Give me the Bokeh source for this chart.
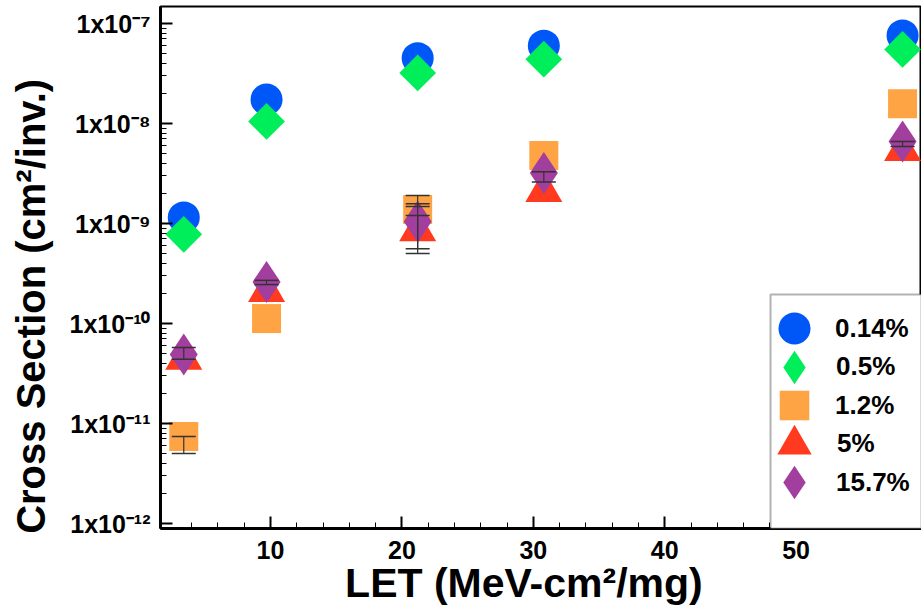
from bokeh.plotting import figure
from bokeh.models import (Range1d, FixedTicker, CustomJSTickFormatter, Legend, LegendItem,
                          Whisker, TeeHead, ColumnDataSource, BoxAnnotation)
from bokeh.embed import file_html
from bokeh.resources import INLINE
import math

# ---- data ----
let_values = [3.4, 9.7, 21.2, 30.8, 58.1]
series_labels = ["0.14%", "0.5%", "1.2%", "5%", "15.7%"]
xs_014 = [1.15e-9, 1.74e-8, 4.5e-8, 6.0e-8, 7.6e-8]
xs_05 = [7.8e-10, 1.05e-8, 3.2e-8, 4.4e-8, 5.5e-8]
xs_12 = [7.4e-12, 1.12e-10, 1.38e-9, 4.8e-9, 1.58e-8]
xs_5 = [4.4e-11, 2.1e-10, 8.5e-10, 2.1e-9, 5.4e-9]
xs_157 = [4.9e-11, 2.6e-10, 1.05e-9, 3.2e-9, 6.6e-9]
# error bars (where visible)
err_let = [3.4, 3.4, 9.7, 21.2, 21.2, 21.2, 30.8, 58.1]
err_lo = [5.0e-12, 4.4e-11, 2.45e-10, 1.48e-9, 5.0e-10, 5.6e-10, 2.6e-9, 5.9e-9]
err_hi = [7.4e-12, 5.75e-11, 2.7e-10, 1.58e-9, 1.9e-9, 1.2e-9, 3.3e-9, 6.6e-9]

x_major_ticks = [10, 20, 30, 40, 50]
x_minor_ticks = [4, 6, 8, 12, 14, 16, 18, 22, 24, 26, 28, 32, 34, 36, 38, 42, 44, 46, 48, 52, 54, 56, 58]
y_exponents = [-12, -11, -10, -9, -8, -7]

colors = ["#0057F7", "#00EE5A", "#FFA444", "#FF3A1E", "#A23E9E"]

FONT = "Liberation Sans"

p = figure(width=921, height=612,
           x_range=Range1d(1.63, 59.54),
           y_range=Range1d(10 ** -12.05, 10 ** -6.83),
           y_axis_type="log",
           output_backend="svg", toolbar_location=None,
           min_border_left=160, min_border_right=0, min_border_top=6, min_border_bottom=84)

p.background_fill_color = "white"
p.border_fill_color = "white"
p.outline_line_color = "black"
p.outline_line_width = 2
p.xgrid.visible = False
p.ygrid.visible = False

# axes
y_major = [10.0 ** e for e in y_exponents]
y_minor = [m * 10.0 ** e for e in y_exponents[:-1] for m in range(2, 10)]
p.yaxis.ticker = FixedTicker(ticks=y_major, minor_ticks=y_minor)
p.xaxis.ticker = FixedTicker(ticks=x_major_ticks, minor_ticks=x_minor_ticks)
p.yaxis.formatter = CustomJSTickFormatter(code="""
const e = Math.round(Math.log10(tick));
const sup = {"-":"\u207b","0":"\u2070","1":"\u00b9","2":"\u00b2","3":"\u00b3","4":"\u2074",
             "5":"\u2075","6":"\u2076","7":"\u2077","8":"\u2078","9":"\u2079"};
return "1x10" + String(e).split("").map(c => sup[c]).join("");
""")

for ax in (p.xaxis[0], p.yaxis[0]):
    ax.axis_line_color = "black"
    ax.axis_line_width = 3
    ax.major_tick_in = 12
    ax.major_tick_out = 0
    ax.minor_tick_in = 6
    ax.minor_tick_out = 0
    ax.major_tick_line_width = 2
    ax.minor_tick_line_width = 1
    ax.major_tick_line_color = "black"
    ax.minor_tick_line_color = "black"
    ax.major_label_text_font = FONT
    ax.major_label_text_font_style = "bold"
    ax.major_label_text_font_size = "25px"
    ax.major_label_text_color = "black"
    ax.major_label_text_line_height = 1.0
    ax.axis_label_text_font = FONT
    ax.axis_label_text_font_style = "bold"
    ax.axis_label_text_color = "black"
    ax.axis_label_text_line_height = 1.0

p.yaxis.axis_label = "Cross Section (cm\u00b2/inv.)" + "\u00a0" * 7
p.yaxis.axis_label_text_font_size = "40px"
p.xaxis.axis_label = "LET (MeV-cm\u00b2/mg)" + "\u00a0" * 3
p.xaxis.axis_label_text_font_size = "41px"
p.yaxis.major_label_standoff = 10
p.yaxis.axis_label_standoff = 14
p.xaxis.major_label_standoff = 12
p.xaxis.axis_label_standoff = -2

# glyphs
r1 = p.scatter(let_values, xs_014, marker="circle", size=32, fill_color=colors[0], line_color=None)
r2 = p.scatter(let_values, xs_05, marker="square", size=26, angle=math.pi / 4,
               fill_color=colors[1], line_color=None)
r3 = p.scatter(let_values, xs_12, marker="square", size=29, fill_color=colors[2], line_color=None)
r4 = p.scatter(let_values, xs_5, marker="triangle", size=37, fill_color=colors[3], line_color=None)

err_src = ColumnDataSource(dict(x=err_let, lo=err_lo, hi=err_hi))
wh = Whisker(base="x", lower="lo", upper="hi", source=err_src, dimension="height",
             line_color="#333333", line_width=1.2, level="glyph",
             upper_head=TeeHead(size=24, line_color="#333333", line_width=1.5),
             lower_head=TeeHead(size=24, line_color="#333333", line_width=1.5))
p.add_layout(wh)

r5 = p.scatter(let_values, xs_157, marker="diamond", size=42, fill_color=colors[4], line_color=None)

# a hidden diamond renderer, used only as the legend symbol of the 0.5% series
r2_legend = p.scatter(let_values, xs_05, marker="diamond", size=36,
                      fill_color=colors[1], line_color=None, visible=False)

# legend frame
box = BoxAnnotation(left=48.05, top=10 ** -9.71, fill_color="white", fill_alpha=1,
                    line_color="black", line_width=2)
p.add_layout(box)

# one legend per entry so that the symbols keep their large size
legend_renderers = [r1, r2_legend, r3, r4, r5]
glyph_boxes = [80, 84, 74, 86, 84]
label_gap = 41
center_x = 634          # symbol centre, px from the frame's left edge
first_row = 200         # first symbol centre, px above the frame's bottom
row_step = 38.5
for i, (lab, r, g) in enumerate(zip(series_labels, legend_renderers, glyph_boxes)):
    cy = first_row - i * row_step
    lg = Legend(items=[LegendItem(label=lab, renderers=[r])],
                location=(center_x - g / 2, cy - g / 2),
                margin=0, padding=0, spacing=0,
                glyph_width=g, glyph_height=g, label_standoff=max(0, int(label_gap - g / 2)),
                border_line_color=None, background_fill_alpha=0,
                label_text_font=FONT, label_text_font_style="bold",
                label_text_font_size="26px", label_text_color="black")
    p.add_layout(lg)

open("out.html", "w").write(file_html(p, INLINE))
